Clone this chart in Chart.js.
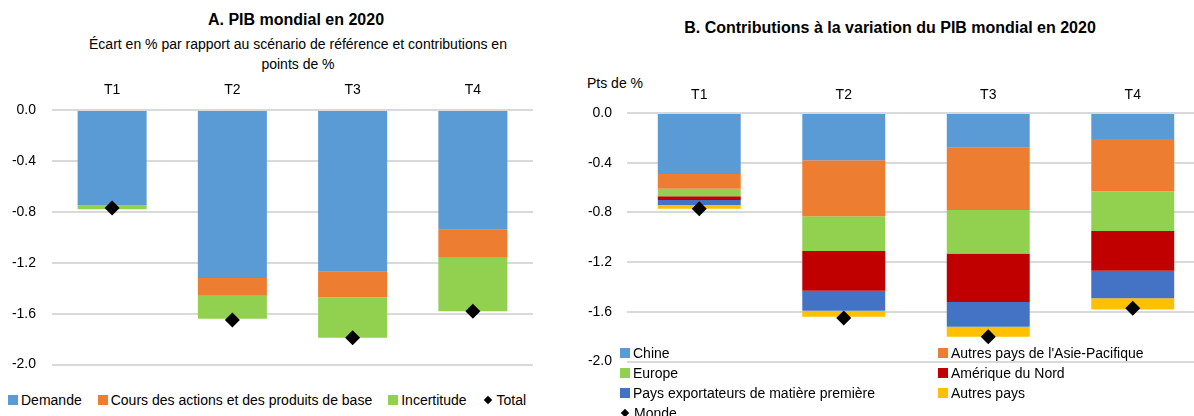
<!DOCTYPE html>
<html>
<head>
<meta charset="utf-8">
<script src="https://cdn.jsdelivr.net/npm/chart.js@4.4.1/dist/chart.umd.min.js"></script>
<style>
  html, body { margin: 0; padding: 0; background: #fff; }
  body { width: 1194px; height: 416px; position: relative; overflow: hidden;
         font-family: "Liberation Sans", Arial, sans-serif; color: #000; }
  canvas { position: absolute; }
  .title { position: absolute; font-weight: bold; font-size: 16px; line-height: 18px; text-align: center; white-space: nowrap; }
  .sub { position: absolute; font-size: 14px; line-height: 20px; text-align: center; }
  .unit { position: absolute; font-size: 14px; line-height: 18px; white-space: nowrap; }
  .legend { position: absolute; font-size: 14px; line-height: 20px; white-space: nowrap; }
  .legend .item { display: flex; align-items: center; }
  .legend .sw { width: 10px; height: 10px; margin-right: 3px; flex: none; }
  .legend .dia { width: 6px; height: 6px; background: #000; transform: rotate(45deg); margin: 0 6px 0 2px; flex: none; }
  #legendA { left: 8px; top: 390px; display: flex; gap: 16px; }
  #legendB { left: 620px; top: 343px; display: grid; grid-template-columns: 318px auto; }
</style>
</head>
<body>

<div class="title" style="left:0; width:592px; top:11px;">A. PIB mondial en 2020</div>
<div class="sub" style="left:0; width:596px; top:34px;">Écart en % par rapport au scénario de référence et contributions en<br>points de %</div>
<canvas id="chartA" width="545" height="313" style="left:0; top:76px;"></canvas>
<div class="legend" id="legendA"></div>

<div class="title" style="left:590px; width:600px; top:19px;">B. Contributions à la variation du PIB mondial en 2020</div>
<div class="unit" style="left:587px; top:74px;">Pts de %</div>
<canvas id="chartB" width="645" height="306" style="left:570px; top:79px;"></canvas>
<div class="legend" id="legendB"></div>

<script>
// categories and axis
const quarters = ['T1', 'T2', 'T3', 'T4'];
const yMin = -2.0;
const yMax = 0.0;
const yStep = 0.4;

// panel A
const demande = [-0.75, -1.32, -1.27, -0.94];
const coursActions = [0.01, -0.14, -0.20, -0.22];
const incertitude = [-0.03, -0.18, -0.32, -0.42];
const totalA = [-0.77, -1.65, -1.79, -1.58];

// panel B
const chine = [-0.49, -0.38, -0.28, -0.21];
const asiePacifique = [-0.12, -0.45, -0.50, -0.42];
const europe = [-0.06, -0.28, -0.35, -0.32];
const ameriqueNord = [-0.03, -0.32, -0.39, -0.32];
const exportateurs = [-0.04, -0.16, -0.20, -0.22];
const autresPays = [-0.03, -0.05, -0.08, -0.09];
const monde = [-0.77, -1.65, -1.80, -1.57];

Chart.defaults.font.family = '"Liberation Sans", Arial, sans-serif';
Chart.defaults.font.size = 14;
Chart.defaults.color = '#000';

function bar(label, data, color) {
    return {
        label: label,
        data: data,
        backgroundColor: color,
        borderWidth: 0,
        barPercentage: 0.574,
        categoryPercentage: 1,
        order: 1,
    };
}

function diamonds(label, data) {
    return {
        type: 'line',
        label: label,
        data: data,
        showLine: false,
        pointStyle: 'rectRot',
        pointRadius: 7.5,
        pointBackgroundColor: '#000',
        pointBorderColor: '#000',
        pointBorderWidth: 0,
        stack: 'total',
        order: 0,
        clip: false,
    };
}

function makePanel(id, datasets, cfg) {
    return new Chart(document.getElementById(id), {
        type: 'bar',
        data: { labels: quarters, datasets: datasets },
        options: {
            responsive: false,
            animation: false,
            devicePixelRatio: 1,
            layout: { padding: { left: 0, right: cfg.padRight, top: 0, bottom: 8 } },
            plugins: {
                legend: { display: false },
                tooltip: { enabled: false },
            },
            scales: {
                x: {
                    position: 'top',
                    stacked: true,
                    grid: { display: false, drawTicks: false },
                    border: { display: false },
                    ticks: { padding: cfg.xPad },
                    afterFit: (axis) => { axis.height = 34; },
                },
                y: {
                    stacked: true,
                    min: yMin,
                    max: yMax,
                    grid: { color: '#d9d9d9', lineWidth: 2, drawTicks: false },
                    border: { display: false },
                    ticks: {
                        stepSize: yStep,
                        padding: cfg.yPad,
                        callback: (v) => (Math.abs(v) < 1e-9 ? 0 : v).toFixed(1),
                    },
                    afterFit: (axis) => { axis.width = cfg.yWidth; },
                },
            },
        },
    });
}

const dsA = [
    bar('Demande', demande, '#5B9BD5'),
    bar('Cours des actions et des produits de base', coursActions, '#ED7D31'),
    bar('Incertitude', incertitude, '#92D050'),
    diamonds('Total', totalA),
];

const dsB = [
    bar('Chine', chine, '#5B9BD5'),
    bar("Autres pays de l'Asie-Pacifique", asiePacifique, '#ED7D31'),
    bar('Europe', europe, '#92D050'),
    bar('Amérique du Nord', ameriqueNord, '#C00000'),
    bar('Pays exportateurs de matière première', exportateurs, '#4472C4'),
    bar('Autres pays', autresPays, '#FFC000'),
    diamonds('Monde', monde),
];

makePanel('chartA', dsA, { padRight: 12, xPad: 11, yPad: 16, yWidth: 52 });
makePanel('chartB', dsB, { padRight: 10, xPad: 9, yPad: 15, yWidth: 57 });

function buildLegend(id, datasets) {
    const box = document.getElementById(id);
    datasets.forEach((ds) => {
        const item = document.createElement('div');
        item.className = 'item';
        const mark = document.createElement('span');
        if (ds.type === 'line') {
            mark.className = 'dia';
        } else {
            mark.className = 'sw';
            mark.style.background = ds.backgroundColor;
        }
        item.appendChild(mark);
        item.appendChild(document.createTextNode(ds.label));
        box.appendChild(item);
    });
}

buildLegend('legendA', dsA);
buildLegend('legendB', dsB);
</script>
</body>
</html>
